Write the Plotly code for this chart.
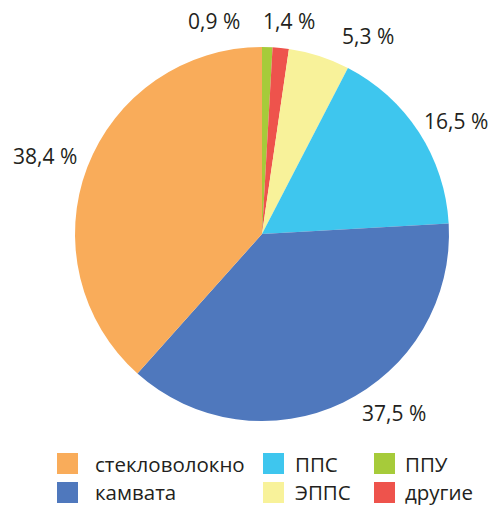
import plotly.graph_objects as go

# Data (clockwise from 12 o'clock)
labels = ["ППУ", "другие", "ЭППС", "ППС", "камвата", "стекловолокно"]
values = [0.9, 1.4, 5.3, 16.5, 37.5, 38.4]
colors = ["#A6CB3A", "#EE534C", "#F8F29A", "#3EC6EE", "#4F78BD", "#F9AC5A"]

# Label placement (pixels in the 495x505 window)
label_pos = [(214, 21), (289, 21), (368, 36), (456, 121), (394, 413), (45, 156)]

# Legend layout order (column-major, as in reference)
legend_order = ["стекловолокно", "камвата", "ППС", "ЭППС", "ППУ", "другие"]

W, H = 495, 505
cx, cy, R = 262, 234, 187
TXT = "#231F20"
FONT = "Open Sans"


def px(x):
    return x / W


def py(y):
    return 1 - y / H


fig = go.Figure(go.Pie(
    labels=labels, values=values, sort=False, direction="clockwise", rotation=0,
    marker=dict(colors=colors, line=dict(width=0)),
    textinfo="none", hoverinfo="label+percent", showlegend=False,
    domain=dict(x=[(cx - R) / W, (cx + R) / W], y=[(H - cy - R) / H, (H - cy + R) / H]),
))

annotations = []
for v, (lx, ly) in zip(values, label_pos):
    annotations.append(dict(
        x=px(lx), y=py(ly), xref="paper", yref="paper",
        text=f"{v:.1f}".replace(".", ",") + " %", showarrow=False,
        font=dict(family=FONT, size=21, color=TXT), xanchor="center", yanchor="middle"))

shapes = []
col_sq_x = [57, 263, 374]
col_txt_x = [93, 293, 403]
row_y = [463.5, 491.5]
sq = 21
for i, name in enumerate(legend_order):
    c, r = i // 2, i % 2
    color = colors[labels.index(name)]
    x0 = col_sq_x[c]
    yc = row_y[r]
    shapes.append(dict(type="rect", xref="paper", yref="paper",
                       x0=px(x0), x1=px(x0 + sq),
                       y0=py(yc + sq / 2 + (1 if r else 0)), y1=py(yc - sq / 2 + (1 if r else 0)),
                       fillcolor=color, line=dict(width=0)))
    annotations.append(dict(x=px(col_txt_x[c]), y=py(yc), xref="paper", yref="paper",
                            text=name, showarrow=False, xanchor="left", yanchor="middle",
                            font=dict(family=FONT, size=20.5, color=TXT)))

fig.update_layout(
    width=W, height=H, margin=dict(l=0, r=0, t=0, b=0),
    paper_bgcolor="white", plot_bgcolor="white",
    annotations=annotations, shapes=shapes, showlegend=False,
)

fig.write_html("out.html", config={"displayModeBar": False},
               post_script="document.body.style.margin='0';")
